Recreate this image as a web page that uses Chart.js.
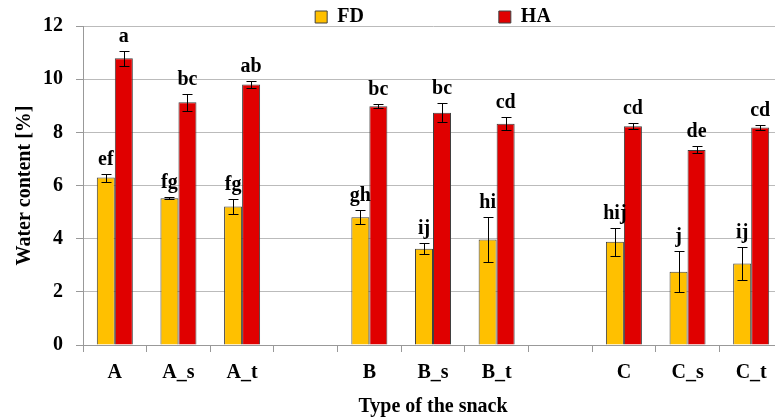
<!DOCTYPE html>
<html>
<head>
<meta charset="utf-8">
<script src="https://cdn.jsdelivr.net/npm/chart.js@4.4.1/dist/chart.umd.min.js"></script>
<style>
  html, body { margin: 0; padding: 0; overflow: hidden; background: #fff; }
  #wrap { width: 783px; height: 419px; position: relative; }
</style>
</head>
<body>
<div id="wrap"><canvas id="c"></canvas></div>
<script>
const categories = ['A', 'A_s', 'A_t', '', 'B', 'B_s', 'B_t', '', 'C', 'C_s', 'C_t'];
const fdValues = [6.30, 5.52, 5.21, null, 4.81, 3.62, 3.97, null, 3.88, 2.76, 3.07];
const fdErrors = [0.15, 0.03, 0.30, null, 0.25, 0.20, 0.83, null, 0.52, 0.77, 0.62];
const haValues = [10.79, 9.13, 9.80, null, 8.98, 8.74, 8.32, null, 8.23, 7.34, 8.18];
const haErrors = [0.28, 0.32, 0.13, null, 0.08, 0.36, 0.25, null, 0.11, 0.13, 0.10];
const fdLetters = ['ef', 'fg', 'fg', '', 'gh', 'ij', 'hi', '', 'hij', 'j', 'ij'];
const haLetters = ['a', 'bc', 'ab', '', 'bc', 'bc', 'cd', '', 'cd', 'de', 'cd'];
const yTicks = [0, 2, 4, 6, 8, 10, 12];

const FONT = '"Liberation Serif", "Times New Roman", serif';
const errors = [fdErrors, haErrors];
const letters = [fdLetters, haLetters];

const errorBarPlugin = {
  id: 'errorBars',
  afterDatasetsDraw(chart) {
    const ctx = chart.ctx;
    const y = chart.scales.y;
    ctx.save();
    chart.data.datasets.forEach((ds, di) => {
      const meta = chart.getDatasetMeta(di);
      meta.data.forEach((bar, i) => {
        const v = ds.data[i];
        const e = errors[di][i];
        if (v === null || e === null) return;
        const x = Math.round(bar.x) + 0.5;
        const yt = Math.round(y.getPixelForValue(v + e)) + 0.5;
        const yb = Math.round(y.getPixelForValue(v - e)) + 0.5;
        ctx.strokeStyle = '#000';
        ctx.lineWidth = 1;
        ctx.beginPath();
        ctx.moveTo(x, yt); ctx.lineTo(x, yb);
        ctx.moveTo(x - 5, yt); ctx.lineTo(x + 5, yt);
        ctx.moveTo(x - 5, yb); ctx.lineTo(x + 5, yb);
        ctx.stroke();
        const t = letters[di][i];
        if (t) {
          ctx.fillStyle = '#000';
          ctx.font = 'bold 20px ' + FONT;
          ctx.textAlign = 'center';
          ctx.textBaseline = 'alphabetic';
          ctx.fillText(t, bar.x, yt - 10);
        }
      });
    });
    ctx.restore();
  }
};

new Chart(document.getElementById('c'), {
  type: 'bar',
  data: {
    labels: categories,
    datasets: [
      { label: 'FD', data: fdValues, backgroundColor: '#FFC000', borderColor: '#404040', borderWidth: 1, borderSkipped: 'start' },
      { label: 'HA', data: haValues, backgroundColor: '#E00000', borderColor: '#404040', borderWidth: 1, borderSkipped: 'start' }
    ]
  },
  options: {
    responsive: true,
    maintainAspectRatio: false,
    animation: false,
    devicePixelRatio: 1,
    layout: { padding: { top: 7, left: 0, right: 0, bottom: 0 } },
    datasets: { bar: { barPercentage: 1.0, categoryPercentage: 0.566 } },
    plugins: {
      tooltip: { enabled: false },
      legend: {
        position: 'top',
        fullSize: false,
        maxHeight: 19,
        labels: {
          boxWidth: 12,
          boxHeight: 12,
          padding: 0,
          color: '#000',
          font: { family: FONT, size: 20, weight: 'bold' },
          generateLabels(chart) {
            return chart.data.datasets.map((ds, i) => ({
              text: i === 0 ? ds.label + ' '.repeat(27) : ds.label,
              fillStyle: ds.backgroundColor,
              strokeStyle: ds.borderColor,
              lineWidth: 1,
              hidden: false,
              datasetIndex: i
            }));
          }
        }
      }
    },
    scales: {
      x: {
        afterFit(s) { s.height = 74; },
        grid: { offset: true, drawOnChartArea: false, drawTicks: true, tickLength: 7, color: '#999' },
        border: { display: true, color: '#999', width: 1 },
        ticks: { color: '#000', padding: 9, font: { family: FONT, size: 20, weight: 'bold' } },
        title: { display: true, text: 'Type of the snack', color: '#000', padding: { top: 0, bottom: 0 }, font: { family: FONT, size: 20, weight: 'bold' } }
      },
      y: {
        min: 0, max: 12,
        afterFit(s) { s.width = 83; },
        afterBuildTicks(s) { s.ticks = yTicks.map(v => ({ value: v })); },
        grid: { color: '#bbb', borderDash: [1, 1], tickLength: 7, tickColor: '#999', tickBorderDash: [] },
        border: { display: true, color: '#999', width: 1 },
        ticks: { color: '#000', padding: 13, font: { family: FONT, size: 20, weight: 'bold' } },
        title: { display: true, text: 'Water content [%]', color: '#000', padding: { top: 13, bottom: 0 }, font: { family: FONT, size: 20, weight: 'bold' } }
      }
    }
  },
  plugins: [errorBarPlugin]
});
</script>
</body>
</html>
